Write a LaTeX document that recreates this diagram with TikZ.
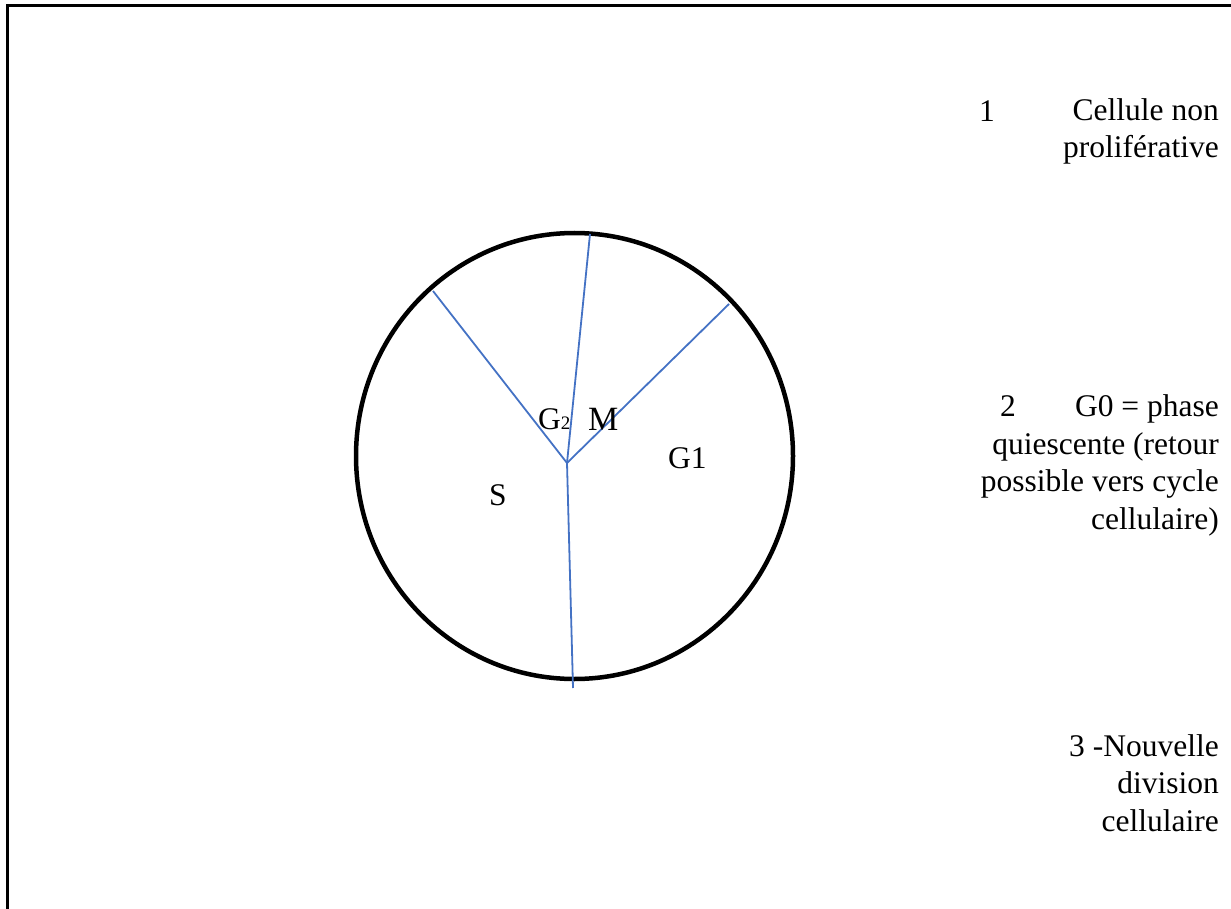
\documentclass[tikz,border=0pt]{standalone}
\usepackage{fontspec}
\setmainfont{Liberation Serif}
\definecolor{spokeblue}{RGB}{68,114,196}

\begin{document}
\begin{tikzpicture}[x=1pt, y=-1pt,
    lbl/.style={font=\fontsize{31.5}{37.5}\selectfont, inner sep=0pt},
    note/.style={lbl, align=right, anchor=base east},
    spoke/.style={spokeblue, line width=1.8pt}]
    \useasboundingbox (0,0) rectangle (1231,909);
    % Frame (cut on the right and at the bottom)
    \draw[line width=3pt] (7,909) -- (7,6) -- (1231,6);
    % Cell
    \draw[line width=4.5pt] (574.5,456) ellipse [x radius=218.5, y radius=223];
    % Phase boundaries
    \coordinate (hub) at (567,463);
    \foreach \name/\px/\py in {sg/433/291, gm/590/234, mg/729/304, bot/573/688} {
        \coordinate (\name) at (\px,\py);
        \draw[spoke] (hub) -- (\name);
    }
    % Phases
    \node[lbl, anchor=base west] (g2) at (538,429) {G\fontsize{19}{19}\selectfont 2};
    \node[lbl, anchor=base west, font=\fontsize{34}{34}\selectfont] (m) at (588,430) {M};
    \node[lbl, anchor=base west] (g1) at (668,468) {G1};
    \node[lbl, anchor=base west] (s) at (489,505) {S};
    % Notes on the right (base = last line)
    \node[lbl, anchor=base west] (n1) at (979,122) {1};
    \node[note] (t1) at (1219,158) {Cellule non\\proliférative};
    \node[lbl, anchor=base west] (n2) at (1000,416) {2};
    \node[note] (t2) at (1219,529) {G0 = phase\\quiescente (retour\\possible vers cycle\\cellulaire)};
    \node[note] (t3) at (1219,831) {3 -Nouvelle\\division\\cellulaire};
\end{tikzpicture}
\end{document}
